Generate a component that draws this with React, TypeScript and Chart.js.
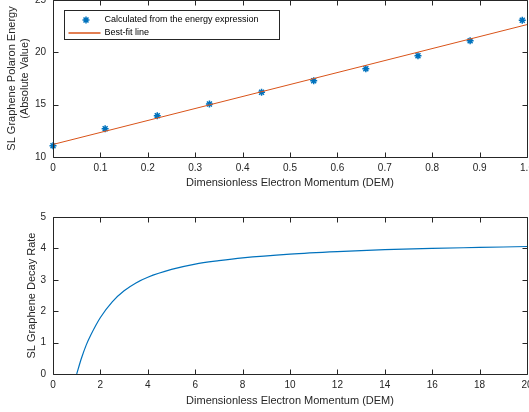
import React, { useEffect, useRef } from "react";
import { Chart, registerables } from "chart.js";

Chart.register(...registerables);

const FONT = "'Liberation Sans', Arial, Helvetica, sans-serif";
const AXIS_COLOR = "#262626";
const BLUE = "#0072BD";
const ORANGE = "#D95319";

// ---- Top subplot data ----
const energyMomentum = [0, 0.11, 0.22, 0.33, 0.44, 0.55, 0.66, 0.77, 0.88, 0.99];
const energyValues = [11.08, 12.7, 13.95, 15.06, 16.18, 17.29, 18.43, 19.68, 21.1, 23.06];
const fitMomentum = [0, 1];
const fitValues = [11.2, 22.65];
const energyLegendLabels = ["Calculated from the energy expression", "Best-fit line"];
const energyYTitle = ["SL Graphene Polaron Energy", "(Absolute Value)"];
const energyXRange = [0, 1, 0.1];
const energyYRange = [10, 25, 5];

// ---- Bottom subplot data ----
const decayMomentum = [1, 1.2, 1.4, 1.6, 2, 2.5, 3, 3.5, 4, 5, 6, 7, 8, 10, 12, 14, 16, 18, 20];
const decayValues = [0, 0.5, 0.92, 1.25, 1.8, 2.3, 2.65, 2.9, 3.08, 3.33, 3.5, 3.61, 3.7, 3.82, 3.9, 3.96, 4.0, 4.03, 4.06];
const decayYTitle = "SL Graphene Decay Rate";
const decayXRange = [0, 20, 2];
const decayYRange = [0, 5, 1];

const xTitle = "Dimensionless Electron Momentum (DEM)";

const framePlugin = {
  id: "matlabFrame",
  afterDatasetsDraw(chart: any) {
    const { ctx, chartArea: a, scales } = chart;
    const L = Math.round(a.left) + 0.5;
    const R = Math.round(a.right) + 0.5;
    const T = Math.round(a.top) + 0.5;
    const B = Math.round(a.bottom) + 0.5;
    const len = 5;
    ctx.save();
    ctx.strokeStyle = AXIS_COLOR;
    ctx.lineWidth = 1;
    ctx.beginPath();
    ctx.rect(L, T, R - L, B - T);
    scales.x.ticks.forEach((t: any) => {
      const p = Math.round(scales.x.getPixelForValue(t.value)) + 0.5;
      ctx.moveTo(p, B);
      ctx.lineTo(p, B - len);
      ctx.moveTo(p, T);
      ctx.lineTo(p, T + len);
    });
    scales.y.ticks.forEach((t: any) => {
      const p = Math.round(scales.y.getPixelForValue(t.value)) + 0.5;
      ctx.moveTo(L, p);
      ctx.lineTo(L + len, p);
      ctx.moveTo(R, p);
      ctx.lineTo(R - len, p);
    });
    ctx.stroke();
    ctx.restore();
  },
};

function drawStar(ctx: CanvasRenderingContext2D, x: number, y: number, r: number) {
  const d = r * Math.SQRT1_2;
  ctx.beginPath();
  ctx.moveTo(x - r, y);
  ctx.lineTo(x + r, y);
  ctx.moveTo(x, y - r);
  ctx.lineTo(x, y + r);
  ctx.moveTo(x - d, y - d);
  ctx.lineTo(x + d, y + d);
  ctx.moveTo(x - d, y + d);
  ctx.lineTo(x + d, y - d);
  ctx.stroke();
}

const legendPlugin = {
  id: "matlabLegend",
  afterDraw(chart: any) {
    const { ctx, chartArea: a } = chart;
    const ds = chart.data.datasets;
    const x0 = Math.round(a.left + 11) + 0.5;
    const y0 = Math.round(a.top + 10) + 0.5;
    const w = 215;
    const h = 29;
    ctx.save();
    ctx.fillStyle = "#ffffff";
    ctx.fillRect(x0, y0, w, h);
    ctx.strokeStyle = AXIS_COLOR;
    ctx.lineWidth = 1;
    ctx.strokeRect(x0, y0, w, h);
    const r1 = y0 + 9.5;
    const r2 = y0 + 22;
    // marker entry
    ctx.strokeStyle = BLUE;
    ctx.lineWidth = 1.5;
    drawStar(ctx, x0 + 21.5, r1, 3.5);
    // line entry
    ctx.strokeStyle = ORANGE;
    ctx.lineWidth = 1.5;
    ctx.beginPath();
    ctx.moveTo(x0 + 4, Math.round(r2));
    ctx.lineTo(x0 + 36, Math.round(r2));
    ctx.stroke();
    ctx.fillStyle = "#000000";
    ctx.font = `9px ${FONT}`;
    ctx.textAlign = "left";
    ctx.textBaseline = "middle";
    ctx.fillText(ds[0].label, x0 + 40, r1);
    ctx.fillText(ds[1].label, x0 + 40, r2);
    ctx.restore();
  },
};

function axisOptions(
  range: number[],
  title: string | string[],
  titlePad: any,
  size: { height?: number; width?: number },
  tickPad: number
) {
  return {
    type: "linear",
    min: range[0],
    max: range[1],
    ticks: {
      stepSize: range[2],
      padding: tickPad,
      color: AXIS_COLOR,
      font: { size: 10, family: FONT },
      maxRotation: 0,
      autoSkip: false,
    },
    grid: { display: false, drawTicks: false },
    border: { display: false },
    title: {
      display: true,
      text: title,
      color: AXIS_COLOR,
      font: { size: 11, family: FONT, lineHeight: 1.2 },
      padding: titlePad,
    },
    afterFit(s: any) {
      if (size.height !== undefined) s.height = size.height;
      if (size.width !== undefined) s.width = size.width;
      s.paddingLeft = 0;
      s.paddingRight = 0;
      s.paddingTop = 0;
      s.paddingBottom = 0;
    },
  };
}

function App() {
  const topRef = useRef<HTMLCanvasElement>(null);
  const botRef = useRef<HTMLCanvasElement>(null);

  useEffect(() => {
    const top = new Chart(topRef.current as HTMLCanvasElement, {
      type: "scatter",
      data: {
        datasets: [
          {
            label: energyLegendLabels[0],
            data: energyMomentum.map((x, i) => ({ x, y: energyValues[i] })),
            showLine: false,
            pointStyle: "star",
            pointRadius: 3.5,
            pointBorderWidth: 1.5,
            borderColor: BLUE,
            backgroundColor: BLUE,
            clip: false,
            order: 2,
          } as any,
          {
            label: energyLegendLabels[1],
            data: fitMomentum.map((x, i) => ({ x, y: fitValues[i] })),
            showLine: true,
            pointRadius: 0,
            borderColor: ORANGE,
            backgroundColor: ORANGE,
            borderWidth: 1,
            order: 1,
          } as any,
        ],
      },
      options: {
        animation: false,
        responsive: false,
        events: [],
        layout: { padding: { left: 0, top: 10, right: 33, bottom: 0 } },
        plugins: { legend: { display: false }, tooltip: { enabled: false } },
        scales: {
          x: axisOptions(energyXRange, xTitle, { top: 0, bottom: 10 }, { height: 43 }, 5),
          y: axisOptions(energyYRange, energyYTitle, { top: 5, bottom: 0 }, { width: 53 }, 7),
        } as any,
      },
      plugins: [framePlugin, legendPlugin],
    });

    const bottom = new Chart(botRef.current as HTMLCanvasElement, {
      type: "scatter",
      data: {
        datasets: [
          {
            label: decayYTitle,
            data: decayMomentum.map((x, i) => ({ x, y: decayValues[i] })),
            showLine: true,
            pointRadius: 0,
            borderColor: BLUE,
            backgroundColor: BLUE,
            borderWidth: 1.2,
            cubicInterpolationMode: "monotone",
          } as any,
        ],
      },
      options: {
        animation: false,
        responsive: false,
        events: [],
        layout: { padding: { left: 0, top: 17, right: 33, bottom: 0 } },
        plugins: { legend: { display: false }, tooltip: { enabled: false } },
        scales: {
          x: axisOptions(decayXRange, xTitle, { top: 0, bottom: 4 }, { height: 38 }, 5),
          y: axisOptions(decayYRange, decayYTitle, { top: 25, bottom: 0 }, { width: 53 }, 7),
        } as any,
      },
      plugins: [framePlugin],
    });

    return () => {
      top.destroy();
      bottom.destroy();
    };
  }, []);

  return (
    <div
      style={{
        position: "fixed",
        left: 0,
        top: 0,
        width: 529,
        height: 412,
        overflow: "hidden",
        background: "#ffffff",
      }}
    >
      <canvas ref={topRef} width={560} height={210} style={{ position: "absolute", left: 0, top: -10 }} />
      <canvas ref={botRef} width={560} height={212} style={{ position: "absolute", left: 0, top: 200 }} />
    </div>
  );
}

export default App;
